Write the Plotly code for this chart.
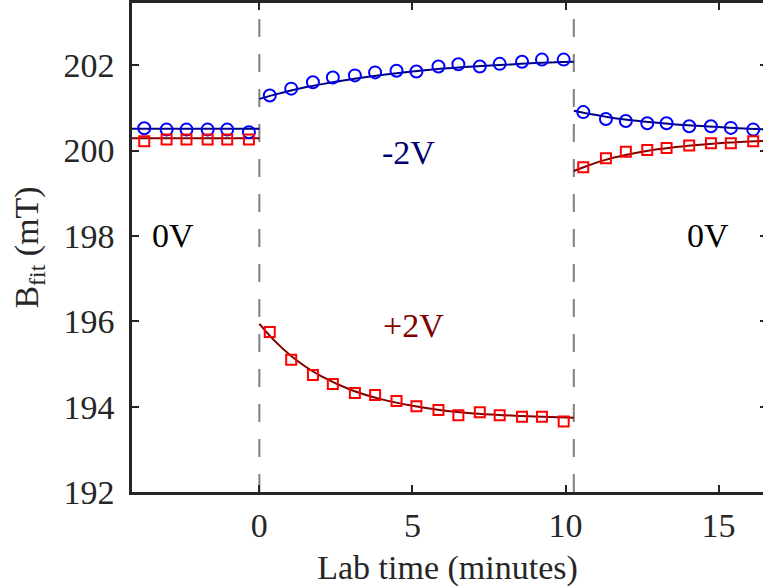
import plotly.graph_objects as go

# ---- data ----
t_before = [-3.76, -3.03, -2.38, -1.69, -1.05, -0.34]
blue_before = [200.52, 200.49, 200.49, 200.49, 200.49, 200.43]
red_before = [200.22, 200.26, 200.26, 200.26, 200.26, 200.26]

t_mid = [0.34, 1.04, 1.75, 2.40, 3.12, 3.78, 4.48, 5.13, 5.85, 6.50, 7.20, 7.85, 8.58, 9.23, 9.94]
blue_mid = [201.29, 201.45, 201.60, 201.71, 201.76, 201.83, 201.87, 201.85, 201.97, 202.02,
            201.97, 202.03, 202.08, 202.13, 202.13]
red_mid = [195.75, 195.10, 194.74, 194.53, 194.32, 194.27, 194.13, 194.01, 193.92, 193.80,
           193.87, 193.80, 193.76, 193.76, 193.65]

t_after = [10.58, 11.32, 11.97, 12.67, 13.30, 14.04, 14.75, 15.40, 16.13]
blue_after = [200.90, 200.74, 200.69, 200.64, 200.64, 200.57, 200.57, 200.53, 200.49]
red_after = [199.61, 199.82, 199.97, 200.01, 200.06, 200.12, 200.17, 200.17, 200.22]

# fit curves
fit_t_before = [-4.3, 0.0]
fit_blue_before = [200.51, 200.51]
fit_red_before = [200.29, 200.29]

fit_t_mid = [0.0, 0.5, 1.0, 1.5, 2.0, 3.0, 4.0, 5.0, 6.0, 7.0, 8.0, 9.0, 10.27]
fit_blue_mid = [201.21, 201.31, 201.40, 201.48, 201.55, 201.67, 201.77, 201.85, 201.92,
                201.97, 202.01, 202.05, 202.08]
fit_red_mid = [195.94, 195.54, 195.21, 194.94, 194.72, 194.39, 194.17, 194.02, 193.91,
               193.84, 193.80, 193.77, 193.74]

fit_t_after = [10.27, 10.75, 11.25, 12.0, 13.0, 14.0, 15.0, 16.0, 16.7]
fit_blue_after = [200.93, 200.86, 200.80, 200.72, 200.65, 200.59, 200.55, 200.51, 200.49]
fit_red_after = [199.52, 199.65, 199.77, 199.90, 200.03, 200.11, 200.17, 200.21, 200.23]

switch_times = [0.0, 10.27]

labels = ["0V", "-2V", "+2V", "0V"]
label_x = [-2.82, 4.86, 5.02, 14.66]
label_y = [198.0, 199.95, 195.90, 198.0]
label_colors = ["#000000", "#00006e", "#800000", "#000000"]

x_range = [-4.16, 16.45]
y_range = [192.0, 203.456]
y_ticks = [192, 194, 196, 198, 200, 202]
x_ticks = [0, 5, 10, 15]

# ---- styles ----
BLUE_PT = "#0000ff"
RED_PT = "#ff0000"
BLUE_FIT = "#000080"
RED_FIT = "#800000"
FONT = "Liberation Serif, Times New Roman, serif"
TXT = "#262626"

fig = go.Figure()

for ft, fb, fr in [(fit_t_before, fit_blue_before, fit_red_before),
                   (fit_t_mid, fit_blue_mid, fit_red_mid),
                   (fit_t_after, fit_blue_after, fit_red_after)]:
    fig.add_trace(go.Scatter(x=ft, y=fb, mode="lines",
                             line=dict(color=BLUE_FIT, width=2, shape="spline", smoothing=1),
                             showlegend=False, hoverinfo="skip"))
    fig.add_trace(go.Scatter(x=ft, y=fr, mode="lines",
                             line=dict(color=RED_FIT, width=2, shape="spline", smoothing=1),
                             showlegend=False, hoverinfo="skip"))

for tt, bb, rr in [(t_before, blue_before, red_before),
                   (t_mid, blue_mid, red_mid),
                   (t_after, blue_after, red_after)]:
    fig.add_trace(go.Scatter(x=tt, y=bb, mode="markers",
                             marker=dict(symbol="circle-open", size=12, color=BLUE_PT,
                                         line=dict(width=2, color=BLUE_PT)),
                             showlegend=False))
    fig.add_trace(go.Scatter(x=tt, y=rr, mode="markers",
                             marker=dict(symbol="square-open", size=10, color=RED_PT,
                                         line=dict(width=2, color=RED_PT)),
                             showlegend=False))

for st in switch_times:
    fig.add_vline(x=st, line=dict(color="#808080", width=2, dash="18px,17px"), layer="below")

for txt, xx, yy, cc in zip(labels, label_x, label_y, label_colors):
    fig.add_annotation(x=xx, y=yy, text=txt, showarrow=False,
                       font=dict(family=FONT, size=34, color=cc),
                       xanchor="center", yanchor="middle")

# overlay axis used only to draw the inward ticks on the right side
fig.add_trace(go.Scatter(x=[None], y=[None], yaxis="y2", showlegend=False))

fig.update_layout(
    width=763, height=587,
    margin=dict(l=132, r=0, t=1, b=95),
    paper_bgcolor="white", plot_bgcolor="white",
    font=dict(family=FONT, size=34, color=TXT),
    xaxis=dict(range=x_range, tickvals=x_ticks, ticks="inside", ticklen=7, tickwidth=2,
               tickcolor=TXT, showline=True, linewidth=2.5, linecolor=TXT, mirror="ticks",
               showgrid=False, zeroline=False, ticklabelstandoff=1,
               tickfont=dict(family=FONT, size=34, color=TXT),
               title=dict(text="Lab time (minutes)", standoff=14,
                          font=dict(family=FONT, size=34, color=TXT))),
    yaxis=dict(range=y_range, tickvals=y_ticks, ticks="inside", ticklen=7, tickwidth=2,
               tickcolor=TXT, showline=True, linewidth=2.5, linecolor=TXT,
               showgrid=False, zeroline=False, ticklabelstandoff=8,
               tickfont=dict(family=FONT, size=34, color=TXT),
               title=dict(text="B<sub>fit</sub> (mT)", standoff=15,
                          font=dict(family=FONT, size=34, color=TXT))),
    yaxis2=dict(range=y_range, tickvals=y_ticks, overlaying="y", side="right",
                ticks="inside", ticklen=3, tickwidth=2, tickcolor=TXT,
                showticklabels=False, showline=False, showgrid=False, zeroline=False),
)

fig.write_html("out.html")
